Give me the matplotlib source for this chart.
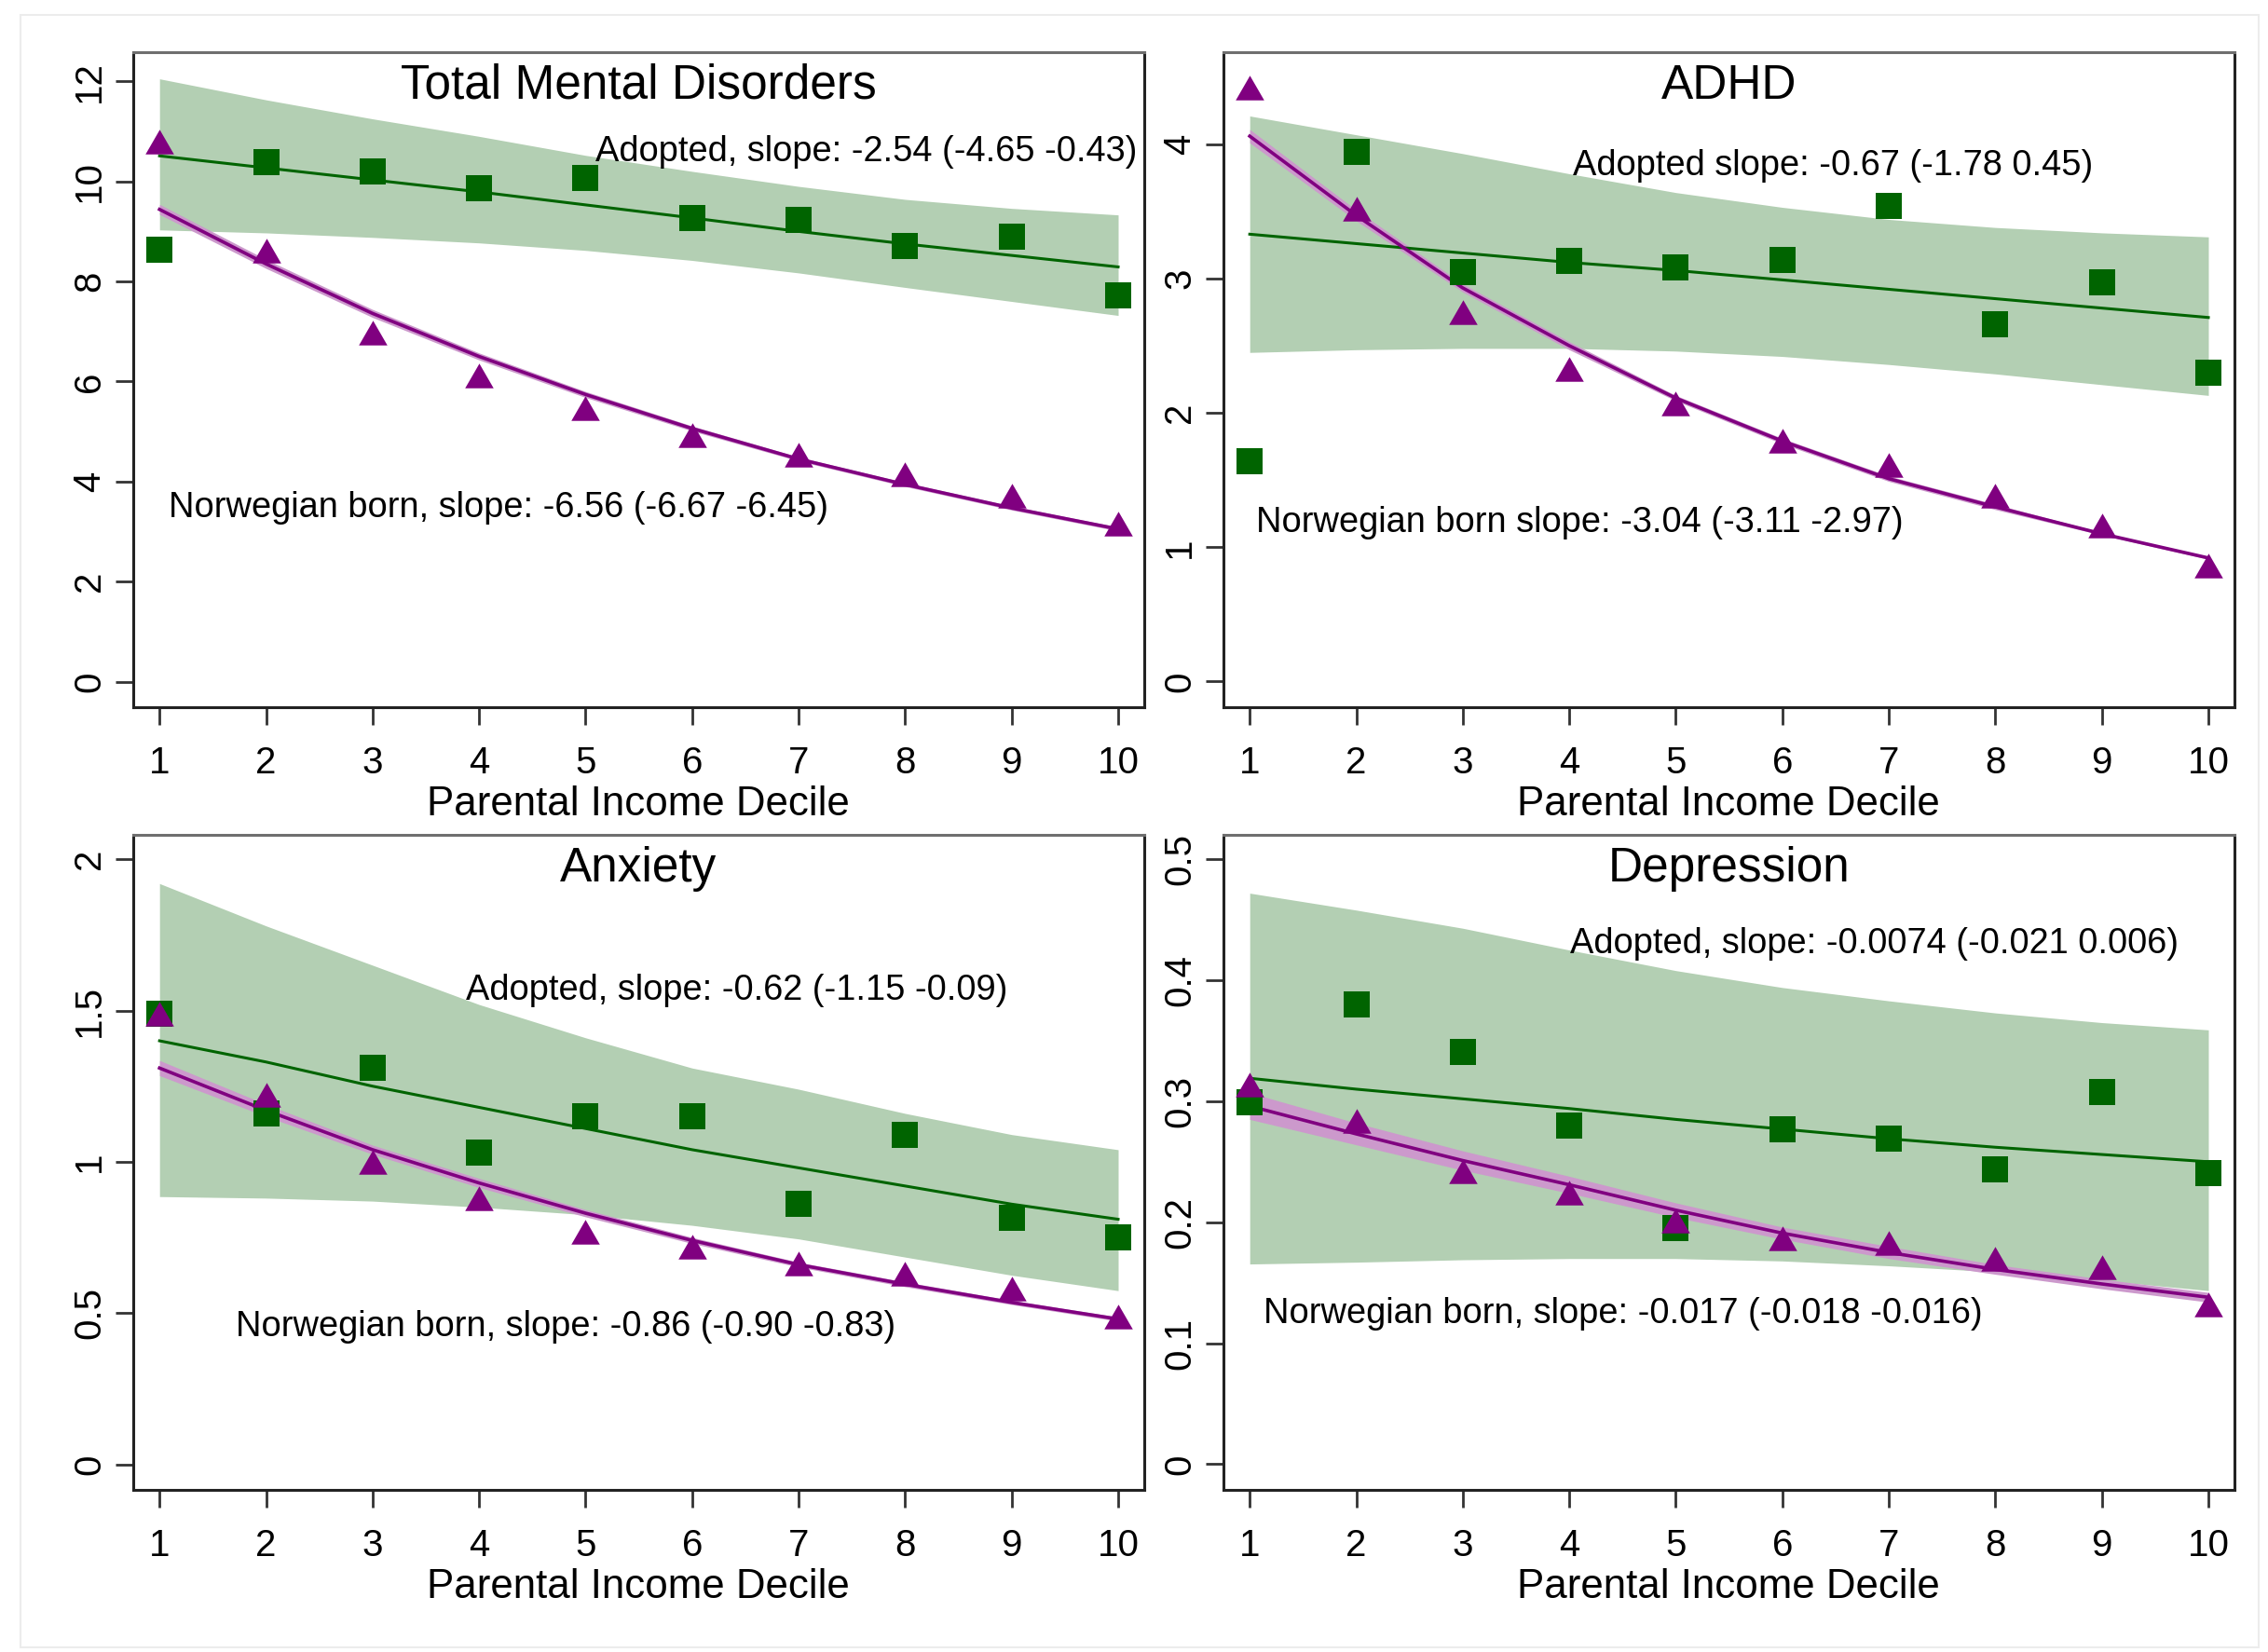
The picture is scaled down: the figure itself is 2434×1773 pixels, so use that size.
import matplotlib
matplotlib.use("Agg")
import matplotlib.pyplot as plt
from matplotlib.path import Path
from matplotlib.patches import Rectangle

plt.rcParams['font.family'] = ['Liberation Sans', 'DejaVu Sans']

deciles = [1, 2, 3, 4, 5, 6, 7, 8, 9, 10]

# ---------------- Total Mental Disorders ----------------
tot_adopt = [8.63, 10.38, 10.20, 9.87, 10.06, 9.27, 9.23, 8.70, 8.90, 7.72]
tot_norw = [10.80, 8.62, 6.97, 6.12, 5.46, 4.93, 4.53, 4.14, 3.72, 3.16]
tot_adopt_fit = [10.51, 10.27, 10.03, 9.79, 9.53, 9.27, 9.00, 8.75, 8.52, 8.29]
tot_adopt_lo = [9.03, 8.97, 8.88, 8.77, 8.62, 8.42, 8.17, 7.88, 7.60, 7.32]
tot_adopt_hi = [12.05, 11.63, 11.25, 10.90, 10.52, 10.20, 9.90, 9.64, 9.46, 9.33]
tot_norw_fit = [9.44, 8.35, 7.36, 6.50, 5.74, 5.06, 4.45, 3.94, 3.47, 3.05]
tot_norw_lo = [9.34, 8.26, 7.28, 6.43, 5.68, 5.01, 4.41, 3.90, 3.43, 3.01]
tot_norw_hi = [9.54, 8.44, 7.44, 6.57, 5.80, 5.11, 4.49, 3.98, 3.51, 3.09]

# ---------------- ADHD ----------------
adhd_adopt = [1.64, 3.94, 3.05, 3.13, 3.08, 3.14, 3.54, 2.66, 2.97, 2.30]
adhd_norw = [4.42, 3.52, 2.75, 2.33, 2.07, 1.79, 1.61, 1.38, 1.16, 0.86]
adhd_adopt_fit = [3.33, 3.26, 3.19, 3.12, 3.06, 2.99, 2.92, 2.85, 2.78, 2.71]
adhd_adopt_lo = [2.45, 2.47, 2.48, 2.48, 2.46, 2.42, 2.36, 2.29, 2.21, 2.13]
adhd_adopt_hi = [4.21, 4.07, 3.93, 3.78, 3.64, 3.53, 3.44, 3.38, 3.34, 3.31]
adhd_norw_fit = [4.06, 3.47, 2.93, 2.50, 2.11, 1.79, 1.51, 1.30, 1.10, 0.92]
adhd_norw_lo = [4.01, 3.43, 2.90, 2.47, 2.09, 1.77, 1.49, 1.28, 1.09, 0.91]
adhd_norw_hi = [4.11, 3.51, 2.96, 2.53, 2.13, 1.81, 1.53, 1.32, 1.11, 0.93]

# ---------------- Anxiety ----------------
anx_adopt = [1.49, 1.16, 1.31, 1.03, 1.15, 1.15, 0.86, 1.09, 0.815, 0.75]
anx_norw = [1.49, 1.22, 1.00, 0.88, 0.77, 0.72, 0.665, 0.63, 0.58, 0.487]
anx_adopt_fit = [1.40, 1.33, 1.25, 1.18, 1.11, 1.04, 0.98, 0.92, 0.86, 0.81]
anx_adopt_lo = [0.885, 0.88, 0.87, 0.85, 0.825, 0.79, 0.745, 0.685, 0.625, 0.574]
anx_adopt_hi = [1.92, 1.78, 1.65, 1.52, 1.41, 1.31, 1.24, 1.16, 1.09, 1.04]
anx_norw_fit = [1.31, 1.17, 1.04, 0.93, 0.83, 0.74, 0.66, 0.595, 0.535, 0.48]
anx_norw_lo = [1.285, 1.15, 1.025, 0.915, 0.818, 0.73, 0.652, 0.587, 0.528, 0.473]
anx_norw_hi = [1.335, 1.19, 1.055, 0.945, 0.842, 0.75, 0.668, 0.603, 0.542, 0.487]

# ---------------- Depression ----------------
dep_adopt = [0.299, 0.380, 0.341, 0.280, 0.195, 0.277, 0.269, 0.244, 0.308, 0.241]
dep_norw = [0.314, 0.284, 0.242, 0.2245, 0.2015, 0.187, 0.183, 0.170, 0.163, 0.132]
dep_adopt_fit = [0.319, 0.310, 0.302, 0.294, 0.285, 0.277, 0.269, 0.262, 0.256, 0.250]
dep_adopt_lo = [0.1655, 0.167, 0.169, 0.170, 0.170, 0.168, 0.164, 0.159, 0.152, 0.1435]
dep_adopt_hi = [0.472, 0.458, 0.443, 0.425, 0.408, 0.394, 0.383, 0.373, 0.365, 0.359]
dep_norw_fit = [0.296, 0.273, 0.251, 0.231, 0.210, 0.191, 0.175, 0.161, 0.149, 0.138]
dep_norw_lo = [0.285, 0.264, 0.243, 0.224, 0.204, 0.186, 0.170, 0.157, 0.145, 0.134]
dep_norw_hi = [0.307, 0.282, 0.259, 0.238, 0.216, 0.196, 0.180, 0.165, 0.153, 0.142]

titles = ["Total Mental Disorders", "ADHD", "Anxiety", "Depression"]
yticks = [[0, 2, 4, 6, 8, 10, 12], [0, 1, 2, 3, 4],
          [0, 0.5, 1, 1.5, 2], [0, 0.1, 0.2, 0.3, 0.4, 0.5]]
yticklabels = [["0", "2", "4", "6", "8", "10", "12"], ["0", "1", "2", "3", "4"],
               ["0", "0.5", "1", "1.5", "2"], ["0", "0.1", "0.2", "0.3", "0.4", "0.5"]]
ylims = [(-0.512, 12.583), (-0.191, 4.685), (-0.0847, 2.081), (-0.0212, 0.5202)]
adopt_labels = ["Adopted, slope: -2.54 (-4.65 -0.43)",
                "Adopted slope: -0.67 (-1.78 0.45)",
                "Adopted, slope: -0.62 (-1.15 -0.09)",
                "Adopted, slope: -0.0074 (-0.021 0.006)"]
norw_labels = ["Norwegian born, slope: -6.56 (-6.67 -6.45)",
               "Norwegian born slope: -3.04 (-3.11 -2.97)",
               "Norwegian born, slope: -0.86 (-0.90 -0.83)",
               "Norwegian born, slope: -0.017 (-0.018 -0.016)"]
adopt_label_pos = [(5.09, 10.59), (4.03, 3.84), (3.88, 1.565), (4.01, 0.430)]
norw_label_pos = [(1.09, 3.48), (1.06, 1.18), (1.715, 0.454), (1.13, 0.124)]
xlabel = "Parental Income Decile"

panels = [
    (tot_adopt, tot_norw, tot_adopt_fit, tot_adopt_lo, tot_adopt_hi, tot_norw_fit, tot_norw_lo, tot_norw_hi),
    (adhd_adopt, adhd_norw, adhd_adopt_fit, adhd_adopt_lo, adhd_adopt_hi, adhd_norw_fit, adhd_norw_lo, adhd_norw_hi),
    (anx_adopt, anx_norw, anx_adopt_fit, anx_adopt_lo, anx_adopt_hi, anx_norw_fit, anx_norw_lo, anx_norw_hi),
    (dep_adopt, dep_norw, dep_adopt_fit, dep_adopt_lo, dep_adopt_hi, dep_norw_fit, dep_norw_lo, dep_norw_hi),
]

GREEN = '#006400'
GREEN_BAND = '#b3cfb3'
PURPLE = '#800080'
PURPLE_BAND = '#cc99cc'

tri = Path([(0, 0.433), (-0.5, -0.433), (0.5, -0.433), (0, 0.433)],
           [Path.MOVETO, Path.LINETO, Path.LINETO, Path.CLOSEPOLY])

W, H = 2434, 1773
fig = plt.figure(figsize=(W / 100, H / 100), dpi=100)
fig.patch.set_facecolor('white')
fig.patches.append(Rectangle((0.009, 0.003), 0.987, 0.988, transform=fig.transFigure,
                             fill=False, edgecolor='#ececec', linewidth=1.5))

lefts = [0.05863, 0.53932]
bottoms = [0.57191, 0.09814]
aw, ah = 0.44589, 0.39651

for i, data in enumerate(panels):
    r, c = divmod(i, 2)
    ax = fig.add_axes([lefts[c], bottoms[r], aw, ah])
    a, n, af, alo, ahi, nf, nlo, nhi = data
    ax.fill_between(deciles, alo, ahi, color=GREEN_BAND, linewidth=0, zorder=1)
    ax.fill_between(deciles, nlo, nhi, color=PURPLE_BAND, linewidth=0, zorder=2)
    ax.plot(deciles, af, color=GREEN, linewidth=2.2, zorder=3)
    ax.plot(deciles, nf, color=PURPLE, linewidth=2.6, zorder=3)
    ax.plot(deciles, a, linestyle='none', marker='s', markersize=20.5,
            markerfacecolor=GREEN, markeredgewidth=0, zorder=4)
    ax.plot(deciles, n, linestyle='none', marker=tri, markersize=22,
            markerfacecolor=PURPLE, markeredgewidth=0, zorder=5)

    ax.set_xlim(0.7507, 10.245)
    ax.set_ylim(*ylims[i])
    ax.set_xticks(deciles)
    ax.set_xticklabels([str(d) for d in deciles])
    ax.set_yticks(yticks[i])
    ax.set_yticklabels(yticklabels[i])
    ax.tick_params(axis='both', direction='out', length=13.7, width=2.0,
                   color='#333333', labelsize=29, labelcolor='black')
    ax.tick_params(axis='x', pad=16)
    ax.tick_params(axis='y', pad=6, labelrotation=90)
    for lbl in ax.get_yticklabels():
        lbl.set_va('center')
    for side in ['left', 'bottom', 'right']:
        ax.spines[side].set_color('#222222')
        ax.spines[side].set_linewidth(2.2)
    ax.spines['top'].set_color('#6f6f6f')
    ax.spines['top'].set_linewidth(2.2)

    ax.text(0.5, 1 - 49.7 / 703, titles[i], transform=ax.transAxes,
            ha='center', va='baseline', fontsize=37, color='black', zorder=6)
    ax.text(adopt_label_pos[i][0], adopt_label_pos[i][1], adopt_labels[i],
            ha='left', va='center', fontsize=27.4, color='black', zorder=6)
    ax.text(norw_label_pos[i][0], norw_label_pos[i][1], norw_labels[i],
            ha='left', va='center', fontsize=27.4, color='black', zorder=6)
    ax.text(0.5, -116.4 / 703, xlabel, transform=ax.transAxes,
            ha='center', va='baseline', fontsize=31.6, color='black')

fig.savefig('out.png', dpi=100, facecolor='white')
